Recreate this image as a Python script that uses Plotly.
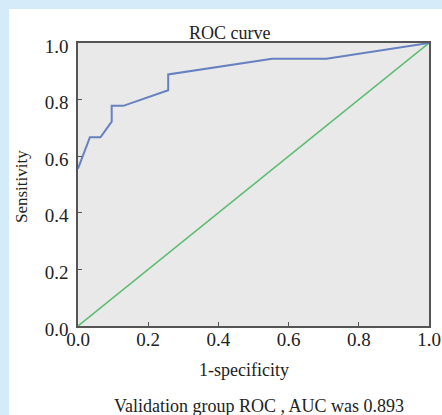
import plotly.graph_objects as go

# ROC data
fpr = [0.0, 0.0, 0.034, 0.064, 0.096, 0.096, 0.129, 0.257, 0.257, 0.553, 0.708, 1.0]
tpr = [0.556, 0.556, 0.667, 0.667, 0.722, 0.778, 0.778, 0.833, 0.889, 0.944, 0.944, 1.0]
ref_x = [0.0, 1.0]
ref_y = [0.0, 1.0]
tick_vals = [0.0, 0.2, 0.4, 0.6, 0.8, 1.0]
tick_text = ["0.0", "0.2", "0.4", "0.6", "0.8", "1.0"]

W, H = 442, 415
L, R, T, B = 78, 429, 43, 326
FONT = "Liberation Serif"
TXT = "#222222"

def px(x):
    return (x - L) / (R - L)

def py(y):
    return (B - y) / (B - T)

fig = go.Figure()
fig.add_trace(go.Scatter(x=ref_x, y=ref_y, mode="lines",
                         line=dict(color="#5dbd73", width=1.6), hoverinfo="skip"))
fig.add_trace(go.Scatter(x=fpr, y=tpr, mode="lines",
                         line=dict(color="#6680c0", width=2), hoverinfo="skip"))

axis_common = dict(
    range=[0, 1], tickvals=tick_vals, ticktext=tick_text,
    ticks="inside", ticklen=4, tickcolor="#555555", tickwidth=1,
    showline=True, linecolor="#555555", linewidth=1.5, mirror=True,
    showgrid=False, zeroline=False, automargin=False,
    tickfont=dict(family=FONT, size=19, color=TXT),
)
fig.update_xaxes(**axis_common, ticklabelstandoff=-5)
fig.update_yaxes(**axis_common, ticklabelstandoff=4, ticklabelshift=3)

shapes = [
    dict(type="rect", xref="paper", yref="paper",
         x0=px(0), x1=px(9), y0=py(H), y1=py(0),
         fillcolor="#d5ebf9", line=dict(width=0), layer="below"),
    dict(type="rect", xref="paper", yref="paper",
         x0=px(0), x1=px(W), y0=py(9), y1=py(0),
         fillcolor="#d5ebf9", line=dict(width=0), layer="below"),
]

annotations = [
    dict(text="ROC curve", x=px(229), y=py(33), xref="paper", yref="paper",
         showarrow=False, xanchor="center", yanchor="middle",
         font=dict(family=FONT, size=18, color=TXT)),
    dict(text="1-specificity", x=px(244), y=py(370), xref="paper", yref="paper",
         showarrow=False, xanchor="center", yanchor="middle",
         font=dict(family=FONT, size=18, color=TXT)),
    dict(text="Sensitivity", x=px(21), y=py(187), xref="paper", yref="paper",
         showarrow=False, xanchor="center", yanchor="middle", textangle=-90,
         font=dict(family=FONT, size=17, color=TXT)),
    dict(text="Validation group ROC , AUC was 0.893", x=px(259), y=py(406),
         xref="paper", yref="paper", showarrow=False,
         xanchor="center", yanchor="middle",
         font=dict(family=FONT, size=18, color=TXT)),
]

fig.update_layout(
    width=W, height=H, autosize=False,
    margin=dict(l=L, r=W - R, t=T, b=H - B, pad=0, autoexpand=False),
    paper_bgcolor="white", plot_bgcolor="#e9e9e9",
    showlegend=False, shapes=shapes, annotations=annotations,
)

fig.write_html(
    "out.html",
    config={"displayModeBar": False, "responsive": False},
    post_script="document.body.style.margin='0';document.body.style.overflow='hidden';",
)
